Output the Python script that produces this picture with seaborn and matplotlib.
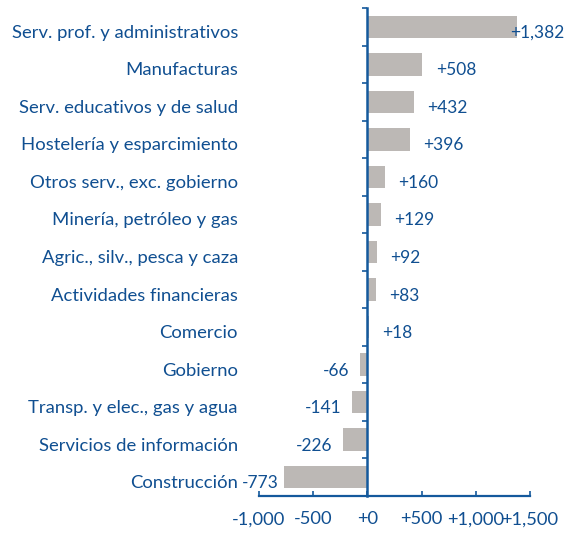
import matplotlib
matplotlib.use("Agg")
import matplotlib.pyplot as plt
import seaborn as sns
import numpy as np

# Net change by sector
categories = [
    "Serv. prof. y administrativos",
    "Manufacturas",
    "Serv. educativos y de salud",
    "Hostelería y esparcimiento",
    "Otros serv., exc. gobierno",
    "Minería, petróleo y gas",
    "Agric., silv., pesca y caza",
    "Actividades financieras",
    "Comercio",
    "Gobierno",
    "Transp. y elec., gas y agua",
    "Servicios de información",
    "Construcción",
]
values = [1382, 508, 432, 396, 160, 129, 92, 83, 18, -66, -141, -226, -773]
x_ticks = [-1000, -500, 0, 500, 1000, 1500]

BLUE = "#14599c"
TEXT = "#104f91"
BAR = "#bcb8b5"
FONT = "Lato"
FS_CAT = 13.3
FS_VAL = 12.5
FS_TICK = 13.2

sns.set_theme(style="white")
plt.rcParams["font.family"] = [FONT, "DejaVu Sans"]

fig = plt.figure(figsize=(5.69, 5.33), dpi=100)
ax = fig.add_axes([259 / 569, 1 - 496 / 533, 271 / 569, (496 - 8) / 533])

sns.barplot(x=values, y=categories, orient="h", color=BAR, saturation=1,
            width=0.6, edgecolor="none", linewidth=0, ax=ax)

ax.set_xlim(x_ticks[0], x_ticks[-1])
ax.set_ylim(len(categories) - 0.5, -0.5)

# spines
for s in ("top", "right"):
    ax.spines[s].set_visible(False)
ax.spines["left"].set_position(("data", 0))
ax.spines["left"].set_color(BLUE)
ax.spines["left"].set_linewidth(1.8)
ax.spines["bottom"].set_color(BLUE)
ax.spines["bottom"].set_linewidth(1.6)

# y ticks between categories, labels drawn separately
ax.set_yticks([])
ax.set_yticks(np.arange(-0.5, len(categories)), minor=True)
ax.tick_params(axis="y", which="minor", direction="out", length=3.5,
               width=1.2, color=BLUE, left=True, labelleft=False)

ax.set_xticks(x_ticks)
ax.set_xticklabels([f"{t:+,}" if t != 0 else "+0" for t in x_ticks])
ax.tick_params(axis="x", direction="in", length=3.5, width=1.2, color=BLUE,
               labelcolor=TEXT, labelsize=FS_TICK, pad=11, bottom=True)
for lbl in ax.get_xticklabels():
    lbl.set_fontfamily([FONT, "DejaVu Sans"])

# category names
for i, name in enumerate(categories):
    ax.annotate(name, xy=(-0.0775, i), xycoords=("axes fraction", "data"),
                xytext=(0, -4.3), textcoords="offset points",
                ha="right", va="center", color=TEXT, fontsize=FS_CAT)

# value labels
xmin, xmax = x_ticks[0], x_ticks[-1]
for i, v in enumerate(values):
    label = f"{v:+,}"
    if v >= 0:
        dx = 9.5 if v < 0.85 * xmax else -5
        ha = "left"
    else:
        dx = -7.5 if v > 0.5 * xmin else -3.5
        ha = "right"
    ax.annotate(label, xy=(v, i), xycoords="data",
                xytext=(dx, -4.3), textcoords="offset points",
                ha=ha, va="center", color=TEXT, fontsize=FS_VAL,
                annotation_clip=False)

ax.set_xlabel("")
ax.set_ylabel("")
fig.savefig("out.png", dpi=100)
